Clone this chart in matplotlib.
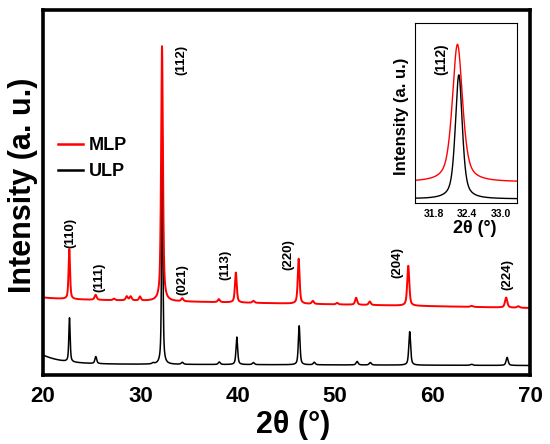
import numpy as np
import matplotlib
matplotlib.use("Agg")
import matplotlib.pyplot as plt

plt.rcParams['font.family'] = ['Liberation Sans', 'DejaVu Sans']
plt.rcParams['font.weight'] = 'bold'

# ---------------- data ----------------
series_names = ["MLP", "ULP"]
series_colors = ["#ff0000", "#000000"]

# MLP (red) peaks: position (2theta), height above baseline (a.u.), FWHM (deg)
mlp_pos    = [22.70, 25.40, 27.30, 28.60, 29.00, 29.95, 32.22, 34.30, 38.05, 39.80, 41.60, 46.25, 47.70, 50.20, 52.15, 53.55, 57.50, 64.00, 67.55, 68.80]
mlp_height = [50.0,  5.0,   1.5,   4.0,   4.0,   4.0,   255.0, 3.0,   3.0,   30.0,  2.0,   45.0,  3.0,   1.5,   7.0,   3.5,   40.0,  1.0,   10.0,  1.5]
mlp_fwhm   = [0.18,  0.25,  0.25,  0.25,  0.25,  0.22,  0.22,  0.25,  0.25,  0.22,  0.25,  0.22,  0.25,  0.25,  0.25,  0.25,  0.25,  0.30,  0.28,  0.30]
mlp_base_start, mlp_base_end = 76.0, 67.0

# ULP (black) peaks
ulp_pos    = [22.72, 25.42, 31.30, 32.245, 34.30, 38.10, 39.90, 41.60, 46.30, 47.85, 52.25, 53.60, 57.65, 64.00, 67.65]
ulp_height = [44.0,  7.0,   1.0,   230.0, 2.0,   2.5,   27.5,  2.0,   39.0,  2.5,   3.5,   2.5,   33.5,  1.0,   8.0]
ulp_fwhm   = [0.16,  0.22,  0.25,  0.15,  0.25,  0.25,  0.20,  0.25,  0.20,  0.25,  0.25,  0.25,  0.22,  0.30,  0.25]
ulp_base_end, ulp_base_rise = 9.5, 9.0

# peak labels (hkl)
hkl_labels = ["(110)", "(111)", "(112)", "(021)", "(113)", "(220)", "(204)", "(224)"]
hkl_x      = [22.80, 25.75, 34.25, 34.35, 38.70, 45.15, 56.35, 67.65]
hkl_y      = [127, 83, 300, 80, 95, 105, 97, 85]

main_xticks = [20, 30, 40, 50, 60, 70]
inset_xticks = [31.8, 32.4, 33.0]
inset_scale = 0.54
inset_offsets = [21.0, 4.0]

# ---------------- profiles ----------------
def pseudo_voigt(x, pos, h, w, eta=0.6):
    g = np.exp(-4 * np.log(2) * ((x - pos) / w) ** 2)
    l = 1.0 / (1.0 + 4 * ((x - pos) / w) ** 2)
    return h * (eta * l + (1 - eta) * g)

def peaks(x, pos, hs, ws):
    y = np.zeros_like(x)
    for p, h, w in zip(pos, hs, ws):
        y += pseudo_voigt(x, p, h, w)
    return y

x = np.linspace(20, 70, 10001)
mlp_base = mlp_base_start + (mlp_base_end - mlp_base_start) * (x - 20) / 50 + 1.5 * np.exp(-(x - 20) / 2)
ulp_base = ulp_base_end + 1.5 * (70 - x) / 50 + ulp_base_rise * np.exp(-(x - 20) / 2.0)
mlp = mlp_base + peaks(x, mlp_pos, mlp_height, mlp_fwhm)
ulp = ulp_base + peaks(x, ulp_pos, ulp_height, ulp_fwhm)

# ---------------- figure ----------------
fig = plt.figure(figsize=(5.5, 4.44), dpi=100)
ax = fig.add_axes([43/550, 1 - 375/444, 487/550, 365/444])

ax.plot(x, ulp, color=series_colors[1], lw=1.1, label=series_names[1])
ax.plot(x, mlp, color=series_colors[0], lw=1.4, label=series_names[0])

ax.set_xlim(20, 70)
ax.set_ylim(0, 365)
ax.set_xticks(main_xticks)
ax.set_yticks([])
ax.tick_params(axis='x', length=0, pad=8, labelsize=16)
for lab in ax.get_xticklabels():
    lab.set_fontweight('bold')
for s in ax.spines.values():
    s.set_linewidth(2.6)

ax.set_xlabel("2θ (°)", fontsize=22, fontweight='bold')
ax.xaxis.set_label_coords(0.513, -0.095)
ax.set_ylabel("Intensity (a. u.)", fontsize=22, fontweight='bold')
ax.yaxis.set_label_coords(-0.011, 0.52)

for t, tx, ty in zip(hkl_labels, hkl_x, hkl_y):
    ax.text(tx, ty, t, rotation=90, ha='center', va='bottom', fontsize=9.5, fontweight='bold')

handles, labels = ax.get_legend_handles_labels()
leg = ax.legend(handles[::-1], labels[::-1], loc='upper left', bbox_to_anchor=(0.031, 0.652),
                frameon=False, fontsize=13, handlelength=1.4, handletextpad=0.3,
                labelspacing=0.5, borderpad=0, borderaxespad=0)
for t in leg.get_texts():
    t.set_fontweight('bold')
for l in leg.get_lines():
    l.set_linewidth(1.8)

# ---------------- inset ----------------
axi = fig.add_axes([415/550, 1 - 203/444, 102/550, 180/444])
mlp_i = inset_scale * peaks(x, mlp_pos, mlp_height, mlp_fwhm) + inset_offsets[0]
ulp_i = inset_scale * peaks(x, ulp_pos, ulp_height, ulp_fwhm) + inset_offsets[1]
axi.plot(x, mlp_i, color=series_colors[0], lw=1.0)
axi.plot(x, ulp_i, color=series_colors[1], lw=1.0)
axi.set_xlim(31.45, 33.3)
axi.set_ylim(0, 180)
axi.set_xticks(inset_xticks)
axi.set_xticklabels([f"{v:.1f}" for v in inset_xticks])
axi.set_yticks([])
axi.tick_params(axis='x', length=0, pad=4, labelsize=7.5)
for lab in axi.get_xticklabels():
    lab.set_fontweight('bold')
for s in axi.spines.values():
    s.set_linewidth(0.8)
axi.set_xlabel("2θ (°)", fontsize=13, fontweight='bold')
axi.xaxis.set_label_coords(0.588, -0.095)
axi.set_ylabel("Intensity (a. u.)", fontsize=12, fontweight='bold')
axi.yaxis.set_label_coords(-0.06, 0.48)
axi.text(31.93, 128, "(112)", rotation=90, ha='center', va='bottom', fontsize=10, fontweight='bold')

fig.savefig("out.png", dpi=100)
